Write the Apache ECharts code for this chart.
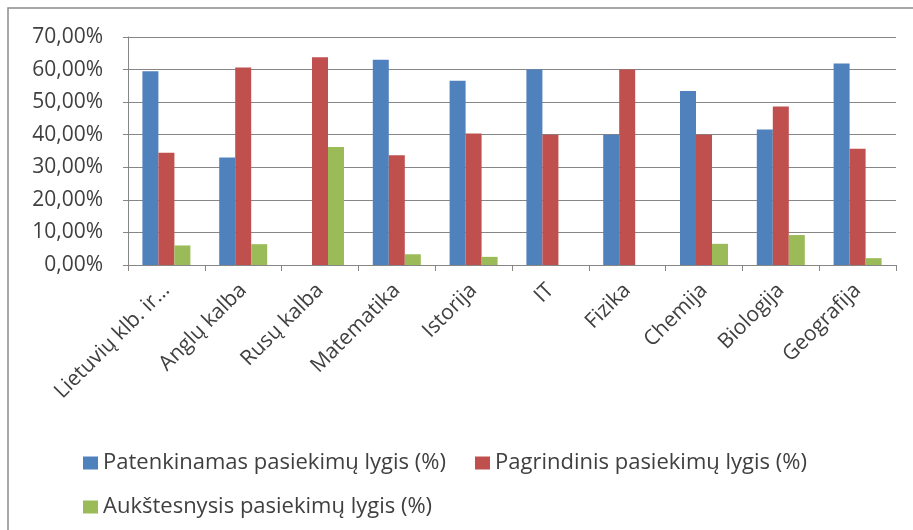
<!DOCTYPE html>
<html>
<head>
<meta charset="utf-8">
<script src="https://cdn.jsdelivr.net/npm/echarts@6/dist/echarts.min.js"></script>
<style>
  html, body { margin: 0; padding: 0; background: #fff; }
  #chart { width: 913px; height: 530px; }
</style>
</head>
<body>
<div id="chart"></div>
<script>
// dalykai (x ašis)
const categories = ['Lietuvių klb. ir…', 'Anglų kalba', 'Rusų kalba', 'Matematika', 'Istorija',
  'IT', 'Fizika', 'Chemija', 'Biologija', 'Geografija']

const seriesNames = [
  'Patenkinamas pasiekimų lygis (%)',
  'Pagrindinis pasiekimų lygis (%)',
  'Aukštesnysis pasiekimų lygis (%)'
]

// reikšmės dalimis (0.595 = 59,5 %)
const patenkinamas = [0.595, 0.330, 0, 0.630, 0.566, 0.600, 0.400, 0.534, 0.416, 0.619]
const pagrindinis = [0.345, 0.606, 0.638, 0.337, 0.404, 0.400, 0.600, 0.400, 0.487, 0.357]
const aukstesnysis = [0.060, 0.064, 0.362, 0.033, 0.025, 0, 0, 0.065, 0.092, 0.021]

const colors = ['#4F81BD', '#C0504D', '#9BBB59']
const ink = '#404040'
const gridColor = '#868686'
const font = 'Open Sans'

const chart = echarts.init(document.getElementById('chart'))

function pct(v) {
  return (v * 100).toFixed(2).replace('.', ',') + '%'
}

// kiekvienas legendos įrašas atskirai, kad sutaptų vietos
function legendItem(name, left, top) {
  return {
    data: [name],
    left, top,
    padding: 0,
    itemWidth: 15, itemHeight: 13,
    icon: 'rect',
    textStyle: { color: ink, fontFamily: font, fontSize: 22 }
  }
}

chart.setOption({
  animation: false,
  color: colors,
  graphic: [
    // rėmelis aplink diagramą
    { type: 'rect', shape: { x: 8, y: 8, width: 1000, height: 1000 },
      style: { fill: 'none', stroke: '#8c8c8c', lineWidth: 1.5 } },
    // nukirsta antraštė viršuje
    { type: 'text', x: 130, y: -17,
      style: { text: 'pasiekimų lygis', fontFamily: 'Liberation Serif', fontSize: 34,
        fill: '#000', verticalAlign: 'middle' } }
  ],
  grid: { left: 128, right: 17, top: 37, bottom: 265, containLabel: false },
  legend: [
    legendItem(seriesNames[0], 83, 452),
    legendItem(seriesNames[1], 475, 452),
    legendItem(seriesNames[2], 83, 496)
  ],
  xAxis: {
    type: 'category',
    data: categories,
    axisLine: { lineStyle: { color: gridColor, width: 1 } },
    axisTick: { show: true, length: 6, lineStyle: { color: gridColor } },
    axisLabel: {
      rotate: 45, interval: 0, margin: 22,
      color: ink, fontFamily: font, fontSize: 21
    }
  },
  yAxis: {
    type: 'value',
    min: 0, max: 0.7, interval: 0.1,
    axisLine: { show: true, lineStyle: { color: gridColor, width: 1 } },
    axisTick: { show: true, length: 5, lineStyle: { color: gridColor } },
    splitLine: { lineStyle: { color: gridColor, width: 1 } },
    axisLabel: {
      margin: 25, color: ink, fontFamily: font, fontSize: 21,
      formatter: pct
    }
  },
  series: [
    { name: seriesNames[0], type: 'bar', data: patenkinamas, barWidth: 16, barGap: '0%' },
    { name: seriesNames[1], type: 'bar', data: pagrindinis, barWidth: 16, barGap: '0%' },
    { name: seriesNames[2], type: 'bar', data: aukstesnysis, barWidth: 16, barGap: '0%' }
  ]
})
</script>
</body>
</html>
